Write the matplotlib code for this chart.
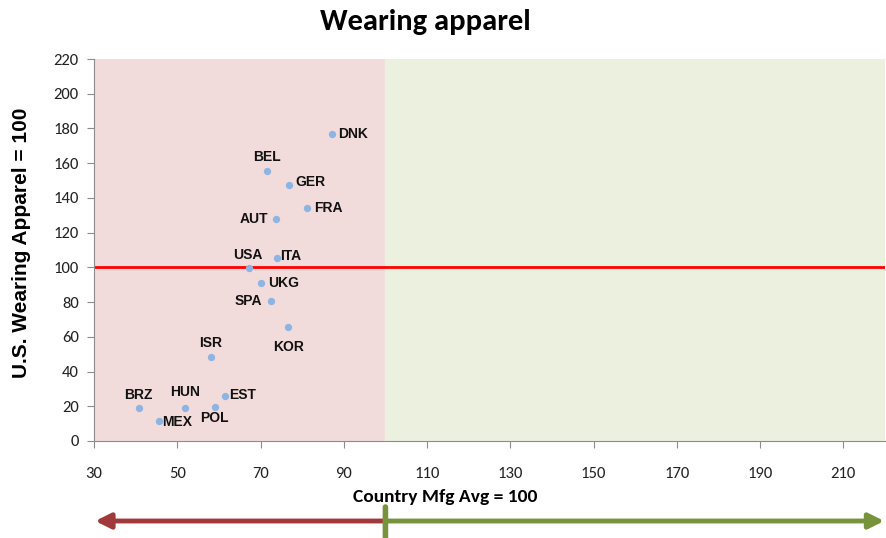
import matplotlib

matplotlib.use("Agg")
import matplotlib.pyplot as plt

# country codes and index values
countries = ["DNK", "BEL", "GER", "FRA", "AUT", "USA", "ITA", "UKG",
             "SPA", "KOR", "ISR", "BRZ", "HUN", "POL", "EST", "MEX"]
mfg_avg = [87.2, 71.5, 76.9, 81.1, 73.7, 67.2, 74.0, 70.1,
           72.4, 76.7, 58.1, 40.7, 51.9, 59.0, 61.5, 45.5]
apparel = [176.6, 155.5, 147.5, 134.2, 127.9, 99.8, 105.4, 91.0,
           80.6, 65.8, 48.5, 19.0, 19.0, 19.7, 26.2, 11.5]

# label placement (offset in pixels, horizontal alignment)
label_pos = {
    "DNK": ((6, 0), "left"), "BEL": ((0, 14), "center"),
    "GER": ((6, 3), "left"), "FRA": ((7, 0), "left"),
    "AUT": ((-8, 0), "right"), "USA": ((-1, 13), "center"),
    "ITA": ((3, 2), "left"), "UKG": ((7, 0), "left"),
    "SPA": ((-8, 0), "right"), "KOR": ((0, -20), "center"),
    "ISR": ((0, 14), "center"), "BRZ": ((0, 13), "center"),
    "HUN": ((0, 16), "center"), "POL": ((0, -11), "center"),
    "EST": ((4, 1), "left"), "MEX": ((4, -1), "left"),
}

CALIBRI = ["Carlito", "DejaVu Sans"]
ARIAL = ["Liberation Sans", "DejaVu Sans"]

fig = plt.figure(figsize=(8.86, 5.38), dpi=100)
ax = fig.add_axes([94 / 886, (538 - 441) / 538, (885 - 94) / 886, (441 - 59) / 538])

ax.set_xlim(30, 220)
ax.set_ylim(0, 220)
ax.axvspan(30, 100, color="#F2DCDB", zorder=0)
ax.axvspan(100, 220, color="#EBF1DE", zorder=0)
ax.axhline(100, color="#FF0000", linewidth=2, zorder=2)

ax.scatter(mfg_avg, apparel, s=28, color="#8EB4E3", zorder=3, linewidths=0)
for name, xv, yv in zip(countries, mfg_avg, apparel):
    off, ha = label_pos[name]
    ax.annotate(name, (xv, yv), xytext=off, textcoords="offset pixels",
                ha=ha, va="center", fontsize=10, fontweight="bold",
                family=ARIAL, color="#111111", zorder=4)

ax.set_xticks(range(30, 220, 20))
ax.set_yticks(range(0, 221, 20))
for spine in ("top", "right"):
    ax.spines[spine].set_visible(False)
for spine in ("left", "bottom"):
    ax.spines[spine].set_color("#8c8c8c")
ax.tick_params(direction="out", length=5, color="#8c8c8c", labelsize=12, pad=14)
ax.tick_params(axis="y", pad=6)
for lab in ax.get_xticklabels() + ax.get_yticklabels():
    lab.set_family(CALIBRI)
    lab.set_color("#222222")

fig.text(425 / 886, 1 - 22 / 538, "Wearing apparel", ha="center", va="center",
         fontsize=22, fontweight="bold", family=CALIBRI)
fig.text(445 / 886, 1 - 497 / 538, "Country Mfg Avg = 100", ha="center", va="center",
         fontsize=14, fontweight="bold", family=CALIBRI)
fig.text(22 / 886, 1 - 243 / 538, "U.S. Wearing Apparel = 100", ha="center", va="center",
         rotation=90, fontsize=15, fontweight="bold", family=ARIAL)

# direction arrows below the axis, anchored to the x data scale
coords = ("data", "figure fraction")
ay = 17 / 538
ax.annotate("", xy=(30.3, ay), xytext=(100, ay), xycoords=coords, textcoords=coords,
            annotation_clip=False,
            arrowprops=dict(arrowstyle="-|>,head_length=0.9,head_width=0.45",
                            color="#A0393B", lw=3.5, shrinkA=0, shrinkB=0))
ax.annotate("", xy=(219.8, ay), xytext=(100, ay), xycoords=coords, textcoords=coords,
            annotation_clip=False,
            arrowprops=dict(arrowstyle="-|>,head_length=0.9,head_width=0.45",
                            color="#77933C", lw=3.5, shrinkA=0, shrinkB=0))
ax.annotate("", xy=(100, 0), xytext=(100, 31 / 538), xycoords=coords, textcoords=coords,
            annotation_clip=False,
            arrowprops=dict(arrowstyle="-", color="#77933C", lw=4, shrinkA=0, shrinkB=0))

fig.savefig("out.png", dpi=100, facecolor="white")
